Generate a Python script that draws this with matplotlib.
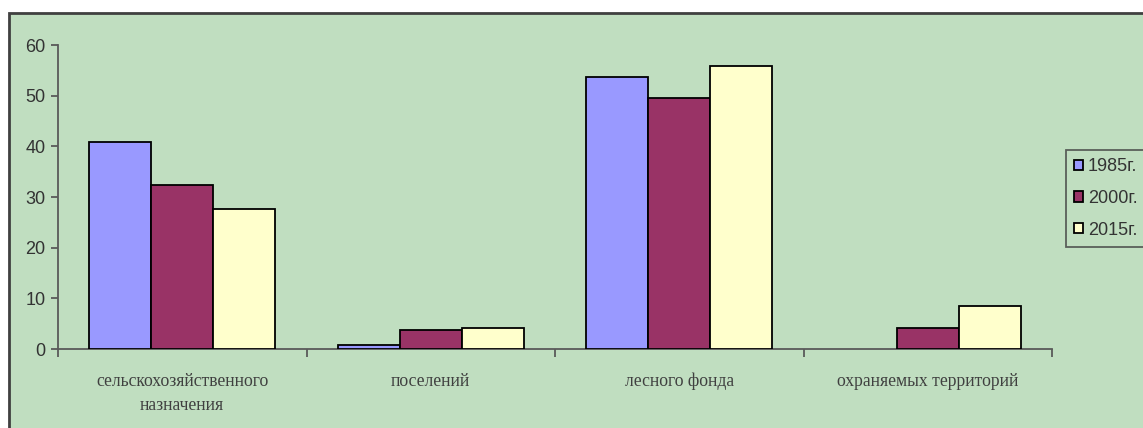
import matplotlib.pyplot as plt
import numpy as np
from matplotlib.patches import Rectangle

categories = ['сельскохозяйственного\nназначения', 'поселений', 'лесного фонда', 'охраняемых территорий']
years = ['1985г.', '2000г.', '2015г.']
v1985 = [40.8, 0.8, 53.7, 0.0]
v2000 = [32.4, 3.7, 49.5, 4.1]
v2015 = [27.6, 4.1, 55.8, 8.5]
colors = ['#9999FF', '#993366', '#FFFFCC']

BG = '#C0DEC0'

fig = plt.figure(figsize=(11.43, 4.28), dpi=100)
fig.patch.set_facecolor('white')

# chart area with dark border (runs off the right/bottom edge)
fig.patches.append(Rectangle((9 / 1143, -0.2), 1.2, 1 - 13 / 428 + 0.2,
                             transform=fig.transFigure, facecolor=BG,
                             edgecolor='#404040', linewidth=2, zorder=-5))

ax = fig.add_axes([58 / 1143, 1 - 349 / 428, (1052 - 58) / 1143, (349 - 45) / 428])
ax.set_facecolor('none')
ax.set_zorder(2)

x = np.arange(len(categories))
w = 0.25
for i, (vals, lab) in enumerate(zip([v1985, v2000, v2015], years)):
    bars = ax.bar(x + (i - 1) * w, vals, w, color=colors[i], edgecolor='black',
                  linewidth=1.3, label=lab, zorder=3)
    for b, v in zip(bars, vals):
        if v == 0:
            b.set_linewidth(0)

ax.set_xlim(-0.5, 3.5)
ax.set_ylim(0, 60)
ax.set_yticks(range(0, 61, 10))
for s in ['top', 'right']:
    ax.spines[s].set_visible(False)
for s in ['left', 'bottom']:
    ax.spines[s].set_color('#5a5a5a')
    ax.spines[s].set_linewidth(1.3)

ax.tick_params(axis='y', direction='out', length=5, width=1.3, color='#5a5a5a',
               labelsize=13, labelcolor='#333333', pad=4)
for t in ax.get_yticklabels():
    t.set_fontfamily('Liberation Sans')

ax.set_xticks(np.arange(-0.5, 3.6, 1.0))
ax.set_xticklabels([])
ax.tick_params(axis='x', which='major', direction='out', length=6, width=1.3, color='#5a5a5a')
ax.set_xticks(x, minor=True)
ax.set_xticklabels(categories, minor=True, fontfamily='Liberation Serif', fontsize=12.7,
                   color='#404040', linespacing=1.55)
ax.tick_params(axis='x', which='minor', length=0, pad=17)

leg = fig.legend(loc='upper left', bbox_to_anchor=(1066 / 1143, 1 - 150 / 428),
                 prop={'family': 'Liberation Sans', 'size': 13}, frameon=True,
                 fancybox=False, edgecolor='#404040', facecolor=BG,
                 handlelength=0.5, handleheight=0.5, handletextpad=0.25,
                 labelspacing=0.82, borderpad=0.45, borderaxespad=0)
leg.get_frame().set_linewidth(1.3)
leg.set_zorder(3)
for t in leg.get_texts():
    t.set_color('#333333')

fig.savefig('out.png', dpi=100, facecolor=fig.get_facecolor())
